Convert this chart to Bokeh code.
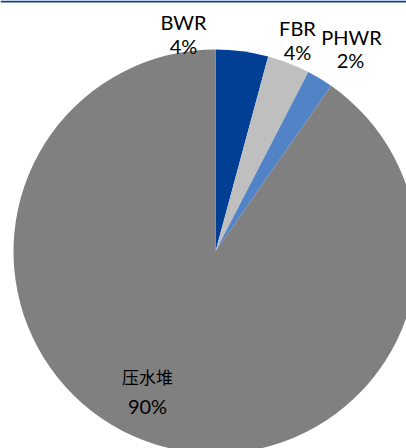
import math
from bokeh.plotting import figure
from bokeh.models import ColumnDataSource, Range1d, Span
from bokeh.core.properties import value
from bokeh.embed import file_html
from bokeh.resources import INLINE

# ---- data ----
categories = ["BWR", "FBR", "PHWR", "压水堆"]
shares = [4.2, 3.4, 2.1, 90.3]
pct_labels = ["4%", "4%", "2%", "90%"]
colors = ["#003f94", "#bfbfbf", "#5183c6", "#808080"]

W, H = 406, 448
p = figure(width=W, height=H, output_backend="svg", toolbar_location=None,
           x_range=Range1d(0, W), y_range=Range1d(0, H), min_border=0)
p.axis.visible = False
p.grid.visible = False
p.outline_line_color = None
p.background_fill_color = "white"

# cumulative angles, clockwise from 12 o'clock
total = sum(shares)
starts, ends = [], []
acc = 0.0
for s in shares:
    a0 = math.pi / 2 - 2 * math.pi * acc / total
    acc += s
    a1 = math.pi / 2 - 2 * math.pi * acc / total
    starts.append(a0)
    ends.append(a1)

cx, cy, r = 215, H - 251, 202
src = ColumnDataSource(dict(cat=categories, start=starts, end=ends, color=colors))
p.wedge(x=cx, y=cy, radius=r, start_angle="start", end_angle="end",
        direction="clock", fill_color="color", line_color=None, source=src)

# labels (layout positions in pixels from top)
name_pos = [(183, 21), (297, 27), (351, 36), (147, 376)]
pct_pos = [(183, 45), (297, 51), (350, 59), (147, 405)]
for i, cat in enumerate(categories):
    is_cjk = cat == "压水堆"
    p.text(x=[name_pos[i][0]], y=[H - name_pos[i][1]], text=[cat],
           text_align="center", text_baseline="middle",
           text_font=value("Noto Sans CJK SC" if is_cjk else "Lato"),
           text_font_size="17px" if is_cjk else "20px", text_color="#000000")
    p.text(x=[pct_pos[i][0]], y=[H - pct_pos[i][1]], text=[pct_labels[i]],
           text_align="center", text_baseline="middle",
           text_font=value("Lato"), text_font_size="20px", text_color="#000000")

p.add_layout(Span(location=H - 1, dimension="width", line_color="#0a3f94", line_width=2))

open("out.html", "w").write(file_html(p, INLINE))
